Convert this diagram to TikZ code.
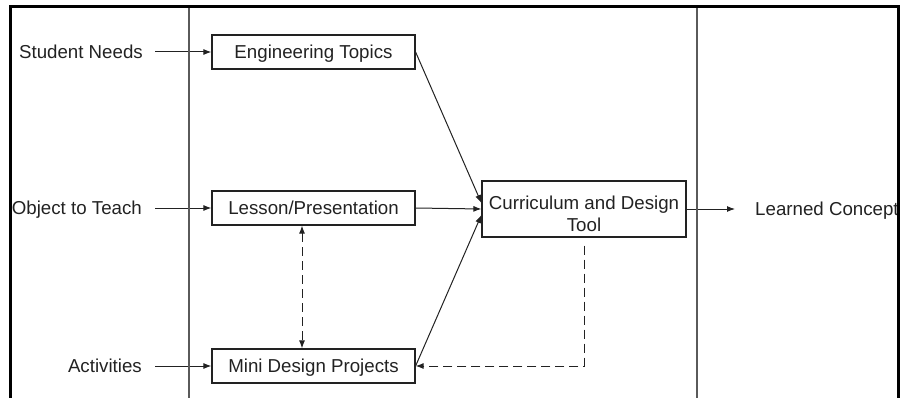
\documentclass[tikz,border=0pt]{standalone}
\usepackage{fontspec}
\setmainfont{Liberation Sans}
\usetikzlibrary{arrows.meta,calc}
\definecolor{ink}{HTML}{222222}
\definecolor{rule}{HTML}{5A5A5A}
\begin{document}
\begin{tikzpicture}[x=1pt,y=-1pt,
  every node/.style={text=ink,font=\fontsize{18.7}{22}\selectfont},
  capline/.style={text height=13.4pt,text depth=0pt},
  box/.style={draw=ink,line width=1.2pt,minimum width=203pt,minimum height=34pt,inner sep=0pt,align=center},
  lbl/.style={capline,inner sep=0pt},
  arr/.style={draw=ink,line width=1pt,-{Latex[length=8pt,width=6pt]}},
  darr/.style={arr,dash pattern=on 9pt off 5pt},
]
\useasboundingbox (0,0) rectangle (901,398);

% process boxes
\node[box,capline] (et) at (313.5,52) {Engineering Topics};
\node[box,capline] (lp) at (313.5,208) {Lesson/Presentation};
\node[box,capline] (md) at (313.5,366) {Mini Design Projects};
\node[box,minimum width=204pt,minimum height=56pt] (ct) at (584,209) {};
\node[align=center,inner sep=0pt] (ctl) at (584,214) {Curriculum and Design\\Tool};

% inputs and output
\node[lbl,anchor=east] (sn) at (143,52) {Student Needs};
\node[lbl,anchor=east] (ot) at (142,208) {Object to Teach};
\node[lbl,anchor=east] (ac) at (142,366) {Activities};
\node[lbl,anchor=west] (lc) at (755,209) {Learned Concept};

% connectors
\draw[arr] ([xshift=12]sn.east) -- (et.west);
\draw[arr] ([xshift=13]ot.east) -- (lp.west);
\draw[arr] ([xshift=13]ac.east) -- (md.west);
\draw[arr] (et.east) -- ($(ct.west)+(0,-6)$);
\draw[arr] (lp.east) -- (ct.west);
\draw[arr] (md.east) -- ($(ct.west)+(0,6)$);
\draw[arr] (ct.east) -- ([xshift=-20]lc.west);
\coordinate (lpb) at ($(lp.south)+(-11.5,0)$);
\coordinate (mdt) at ($(md.north)+(-11.5,0)$);
\draw[darr,{Latex[length=8pt,width=6pt]}-{Latex[length=8pt,width=6pt]}] (lpb) -- (mdt);
\draw[darr,shorten <=8pt] (ct.south) |- (md.east);

% frame and swim-lane dividers
\draw[rule,line width=1.8pt] (189,7) -- (189,398);
\draw[rule,line width=1.8pt] (697,7) -- (697,398);
\draw[black,line width=3pt] (10,398) -- (10,7) -- (898,7) -- (898,398);
\end{tikzpicture}
\end{document}
